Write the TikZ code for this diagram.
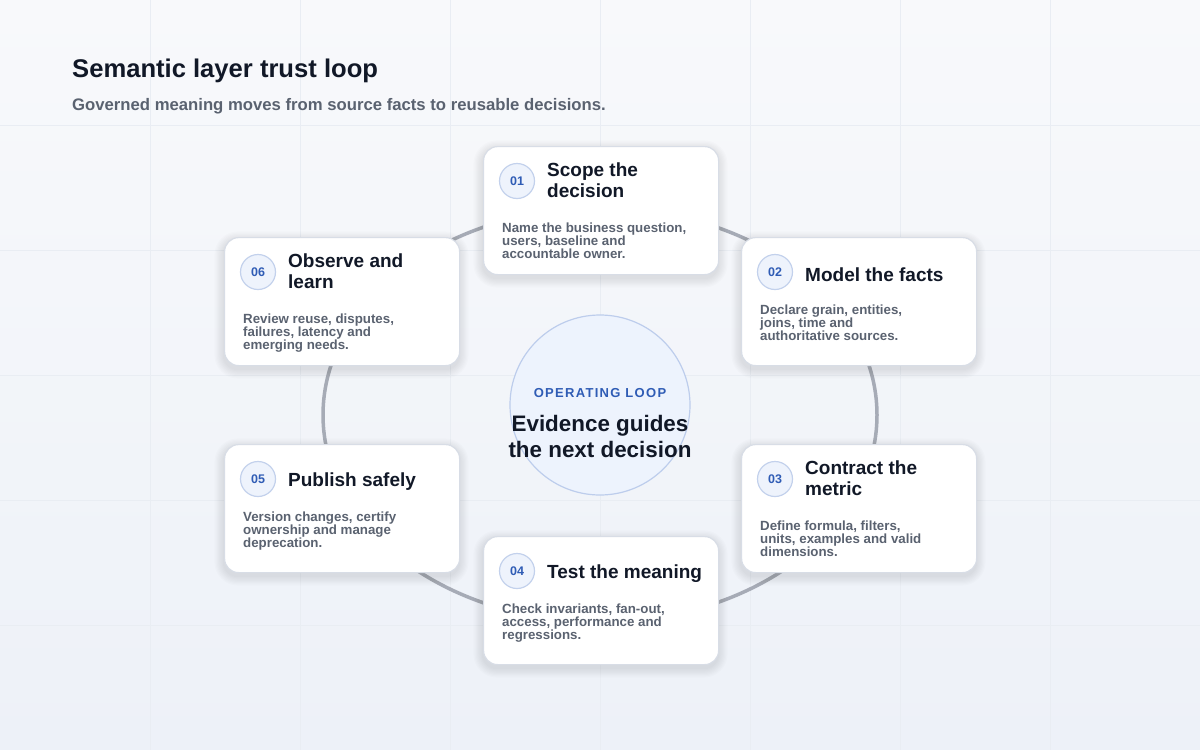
\documentclass[tikz,border=0pt]{standalone}
\usepackage{fontspec}
\setmainfont{Liberation Sans}
\usetikzlibrary{calc}
\definecolor{ink}{HTML}{111827}
\definecolor{muted}{HTML}{5A6270}
\definecolor{ringc}{HTML}{A6ABB6}
\definecolor{cardedge}{HTML}{D8DDE6}
\definecolor{badgefill}{HTML}{EEF3FC}
\definecolor{badgeedge}{HTML}{C3D1EC}
\definecolor{accent}{HTML}{2F5CB5}
\definecolor{hubfill}{HTML}{EDF3FD}
\definecolor{hubedge}{HTML}{BDCDEC}
\definecolor{bgA}{HTML}{F8F9FB}
\definecolor{bgB}{HTML}{EDF1F8}
\definecolor{gridc}{HTML}{E9EDF3}
\newcommand\stepcard[8]{%
  \foreach \i in {1,...,8}{%
    \pgfmathsetmacro\rr{14+\i*1.2}%
    \fill[black, opacity=0.011, rounded corners=\rr pt] (#2-\i*1.2, #3-\i*1.2+4) rectangle (#2+235+\i*1.2, #3+128+\i*1.2+4);}
  \node[card] (#1) at (#2,#3) {};
  \node[badge] (#1n) at ($(#1.north west)+(34,35)$) {#4};
  \node[cardtitle] (#1t) at ($(#1.north west)+(64,#6)$) {#5};
  \node[carddesc] (#1d) at ($(#1.north west)+(19,#8)$) {#7};
}
\begin{document}
\begin{tikzpicture}[x=1pt,y=-1pt,
  card/.style={draw=cardedge, line width=1.2pt, fill=white, rounded corners=14pt, minimum width=235pt, minimum height=128pt, anchor=north west, inner sep=0pt},
  badge/.style={circle, draw=badgeedge, line width=1.2pt, fill=badgefill, minimum size=35pt, inner sep=0pt, font=\bfseries\fontsize{12.5}{14}\selectfont, text=accent},
  cardtitle/.style={anchor=west, align=left, inner sep=0pt, text=ink, font=\bfseries\fontsize{19}{21}\selectfont},
  carddesc/.style={anchor=north west, align=left, inner sep=0pt, text=muted, font=\bfseries\fontsize{13.3}{13}\selectfont},
  gridline/.style={draw=gridc, line width=1pt},
  ringline/.style={draw=ringc, line width=3.5pt}
]
\useasboundingbox (0,0) rectangle (1200,750);
\shade[top color=bgA, bottom color=bgB] (0,0) rectangle (1200,750);
\foreach \x in {150,300,...,1050} \draw[gridline] (\x,0) -- (\x,750);
\foreach \y in {125,250,...,625} \draw[gridline] (0,\y) -- (1200,\y);

\node[anchor=base west, inner sep=0pt, text=ink, font=\bfseries\fontsize{25.6}{30}\selectfont] (title) at (72,77) {Semantic layer trust loop};
\node[anchor=base west, inner sep=0pt, text=muted, font=\bfseries\fontsize{16.7}{20}\selectfont] (subtitle) at (72,110) {Governed meaning moves from source facts to reusable decisions.};

\coordinate (ringcenter) at (600,415);
\draw[ringline] (ringcenter) ellipse [x radius=277pt, y radius=207pt];

\node[circle, draw=hubedge, line width=1.2pt, fill=hubfill, minimum size=180pt, inner sep=0pt] (hub) at (600,405) {};
\node[inner sep=0pt, text=accent, font=\bfseries\fontsize{13}{15}\selectfont\addfontfeature{LetterSpace=10}] (hublabel) at (600,393) {OPERATING LOOP};
\node[inner sep=0pt, align=center, text=ink, font=\bfseries\fontsize{22.4}{26}\selectfont] (hubtext) at (600,436) {Evidence guides\\the next decision};

\stepcard{c1}{483}{146}{01}{Scope the\\decision}{34}{Name the business question,\\users, baseline and\\accountable owner.}{77}
\stepcard{c2}{741}{237}{02}{Model the facts}{38}{Declare grain, entities,\\joins, time and\\authoritative sources.}{68}
\stepcard{c3}{741}{444}{03}{Contract the\\metric}{34}{Define formula, filters,\\units, examples and valid\\dimensions.}{77}
\stepcard{c4}{483}{536}{04}{Test the meaning}{38}{Check invariants, fan-out,\\access, performance and\\regressions.}{68}
\stepcard{c5}{224}{444}{05}{Publish safely}{38}{Version changes, certify\\ownership and manage\\deprecation.}{68}
\stepcard{c6}{224}{237}{06}{Observe and\\learn}{34}{Review reuse, disputes,\\failures, latency and\\emerging needs.}{77}
\end{tikzpicture}
\end{document}
